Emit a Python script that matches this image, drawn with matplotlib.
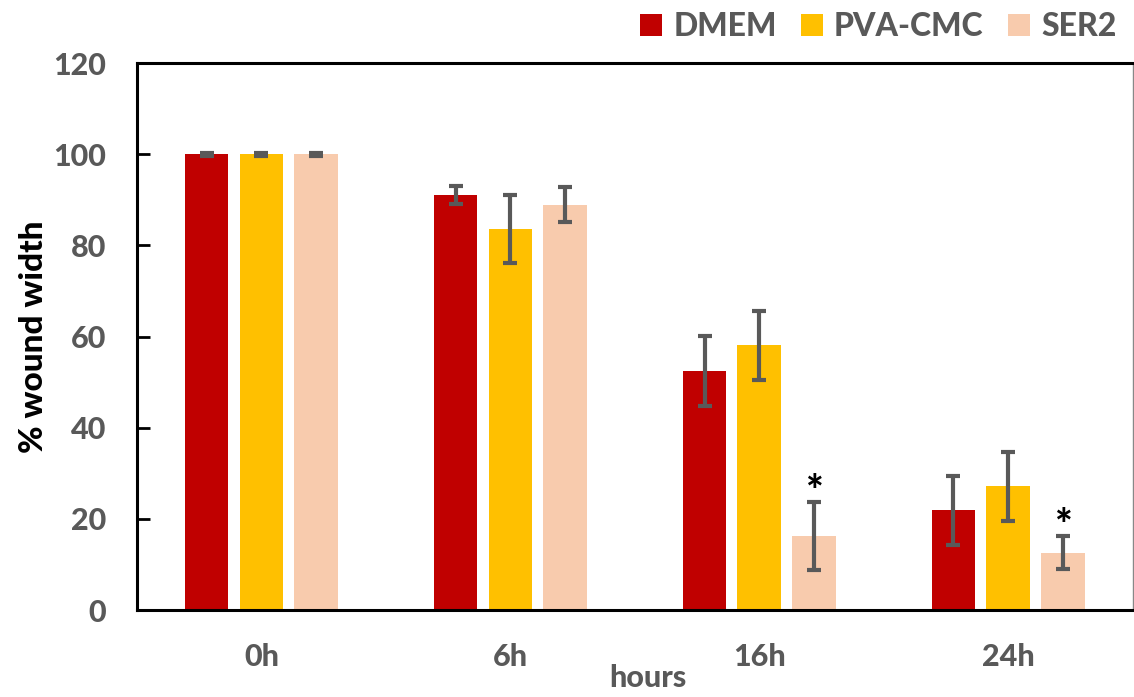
import numpy as np
import matplotlib
matplotlib.use("Agg")
import matplotlib.pyplot as plt
from matplotlib.patches import Patch

# ── Data ──────────────────────────────────────────────────
hours      = ["0h", "6h", "16h", "24h"]
groups     = ["DMEM", "PVA-CMC", "SER2"]
dmem       = [100.0, 91.0, 52.4, 21.9]
pva_cmc    = [100.0, 83.6, 58.1, 27.1]
ser2       = [100.0, 88.9, 16.2, 12.6]
dmem_err   = [0.3, 2.0, 7.7, 7.6]
pva_err    = [0.3, 7.5, 7.6, 7.6]
ser2_err   = [0.3, 3.8, 7.5, 3.7]
signif     = [False, False, True, True]   # '*' over SER2

COLORS     = ["#C00000", "#FFC000", "#F8CBAD"]
GREY       = "#595959"
FONT       = "Lato"
WEIGHT     = 900

plt.rcParams["font.family"] = [FONT, "DejaVu Sans"]
plt.rcParams["font.weight"] = WEIGHT

fig = plt.figure(figsize=(11.34, 6.97), dpi=100)
ax = fig.add_axes([0.1208, 0.1248, 0.878, 0.7848])

x = np.arange(len(hours))
width = 0.175
offset = 0.22
series = [dmem, pva_cmc, ser2]
errors = [dmem_err, pva_err, ser2_err]

for i, (vals, errs) in enumerate(zip(series, errors)):
    ax.bar(x + (i - 1) * offset, vals, width, color=COLORS[i],
           yerr=errs, error_kw=dict(ecolor=GREY, elinewidth=3,
                                    capsize=5, capthick=3),
           label=groups[i], zorder=2)

# significance stars over SER2
for j, s in enumerate(signif):
    if s:
        ax.text(x[j] + offset, ser2[j] + ser2_err[j] - 2.3, "*",
                ha="center", va="bottom", fontsize=30, color="black",
                fontweight=WEIGHT)

ax.set_xlim(-0.5, len(hours) - 0.5)
ax.set_ylim(0, 120)
ax.set_yticks(np.arange(0, 121, 20))
ax.set_xticks(x)
ax.set_xticklabels(hours)

ax.tick_params(axis="y", direction="in", length=9, width=2,
               color="black", labelsize=22, labelcolor=GREY, pad=22)
ax.tick_params(axis="x", length=0, labelsize=22, labelcolor=GREY, pad=24)
for lab in ax.get_xticklabels() + ax.get_yticklabels():
    lab.set_fontweight(WEIGHT)

for side in ["left", "bottom", "top"]:
    ax.spines[side].set_color("black")
    ax.spines[side].set_linewidth(2.2)
ax.spines["right"].set_color("#888888")
ax.spines["right"].set_linewidth(1)

ax.set_ylabel("% wound width", fontsize=24, fontweight=WEIGHT,
              color="black", labelpad=4)
ax.set_xlabel("hours", fontsize=22, fontweight=WEIGHT, color=GREY)
ax.xaxis.set_label_coords(0.513, -0.098)

handles = [Patch(facecolor=c, edgecolor="none") for c in COLORS]
fig.legend(handles, groups, loc="upper right", ncol=3,
           bbox_to_anchor=(1.01, 1.024), frameon=False,
           handlelength=0.7, handleheight=0.7, handletextpad=0.35,
           columnspacing=0.75, prop=dict(family=FONT, weight=WEIGHT, size=23),
           labelcolor=GREY)

fig.savefig("out.png", dpi=100)
